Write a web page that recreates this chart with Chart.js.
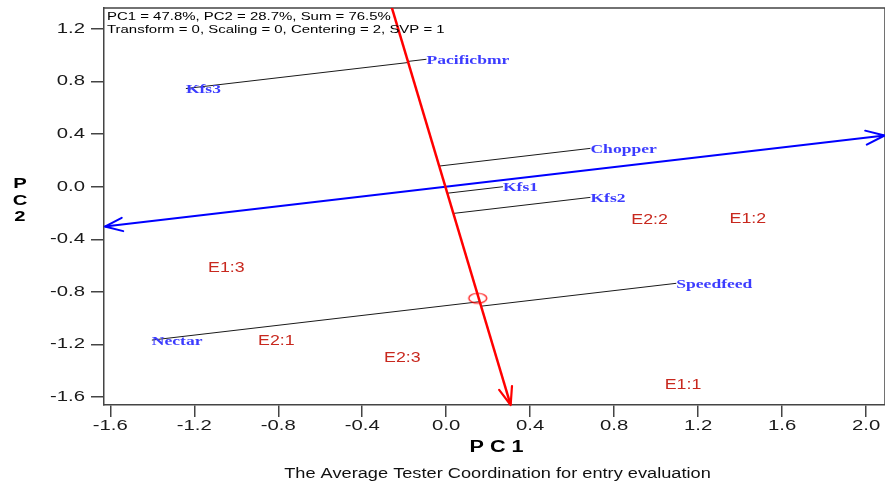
<!DOCTYPE html>
<html>
<head>
<meta charset="utf-8">
<script src="https://cdn.jsdelivr.net/npm/chart.js@4.4.1/dist/chart.umd.min.js"></script>
<style>
html,body{margin:0;padding:0;background:#fff;}
#wrap{width:885px;height:482px;}
</style>
</head>
<body>
<div id="wrap"><canvas id="c" width="885" height="482"></canvas></div>
<script>
// ---- data ----
const genoNames = ['Pacificbmr','Kfs3','Chopper','Kfs1','Kfs2','Speedfeed','Nectar'];
const genoX = [-0.094,-1.240,0.687,0.270,0.687,1.096,-1.402];
const genoY = [0.970,0.747,0.292,0.000,-0.081,-0.735,-1.167];
const envNames = ['E1:3','E2:1','E2:3','E1:1','E2:2','E1:2'];
const envX = [-1.047,-0.809,-0.209,1.128,0.969,1.437];
const envY = [-0.621,-1.172,-1.301,-1.509,-0.253,-0.248];
const atcX = [-0.260,0.307];   // ATC ordinate (red)
const atcY = [1.368,-1.661];
const aecX = [-1.626,2.088];   // ATC abscissa (blue)
const aecY = [-0.303,0.390];
const avgX = [0.150];
const avgY = [-0.849];
const xTicks = [-1.6,-1.2,-0.8,-0.4,0.0,0.4,0.8,1.2,1.6,2.0];
const yTicks = [-1.6,-1.2,-0.8,-0.4,0.0,0.4,0.8,1.2];
const headerLines = ['PC1 = 47.8%, PC2 = 28.7%, Sum = 76.5%','Transform = 0, Scaling = 0, Centering = 2, SVP = 1'];
const xTitle = 'P C 1';
const yTitleLetters = ['P','C','2'];
const bottomTitle = 'The Average Tester Coordination for entry evaluation';

// ---- derived: projection of each entry onto the ATC ordinate ----
function project(px, py){
  const ax=atcX[0], ay=atcY[0];
  let dx=atcX[1]-ax, dy=atcY[1]-ay;
  const L=Math.hypot(dx,dy); dx/=L; dy/=L;
  const t=(px-ax)*dx+(py-ay)*dy;
  return {x:ax+t*dx, y:ay+t*dy};
}

const projSets = genoNames.map((n,i)=>{
  const f = project(genoX[i],genoY[i]);
  return {
    label:'proj '+n,
    data:[{x:genoX[i],y:genoY[i]},{x:f.x,y:f.y}],
    showLine:true, borderColor:'#1a1a1a', borderWidth:1,
    pointRadius:0, order:3
  };
});

// ellipse marker
const ell = document.createElement('canvas');
ell.width=22; ell.height=14;
(function(){
  const g=ell.getContext('2d');
  g.strokeStyle='#ff0000'; g.lineWidth=1.2;
  g.beginPath(); g.ellipse(11,7,9,5,0,0,Math.PI*2); g.stroke();
})();

function stretchText(ctx, text, x, y, font, color, sx, align){
  ctx.save();
  ctx.font=font; ctx.fillStyle=color; ctx.textBaseline='middle'; ctx.textAlign='left';
  const w=ctx.measureText(text).width*sx;
  let x0 = align==='center' ? x-w/2 : (align==='right' ? x-w : x);
  ctx.translate(x0,y); ctx.scale(sx,1); ctx.fillText(text,0,0);
  ctx.restore();
}

function arrow(ctx, p0, p1, len, ang, color, lw){
  let ux=p1.x-p0.x, uy=p1.y-p0.y; const L=Math.hypot(ux,uy); ux/=L; uy/=L;
  ctx.save(); ctx.strokeStyle=color; ctx.lineWidth=lw; ctx.lineCap='round';
  ctx.beginPath();
  [ang,-ang].forEach(a=>{
    const c=Math.cos(a), s=Math.sin(a);
    const rx=ux*c-uy*s, ry=ux*s+uy*c;
    ctx.moveTo(p0.x,p0.y); ctx.lineTo(p0.x+rx*len,p0.y+ry*len);
  });
  ctx.stroke(); ctx.restore();
}

const decor = {
  id:'decor',
  beforeDatasetsDraw(chart){
    const {ctx, chartArea:a} = chart;
    ctx.save(); ctx.strokeStyle='#444'; ctx.lineWidth=1.5;
    ctx.beginPath(); ctx.moveTo(a.left,a.top); ctx.lineTo(a.right,a.top); ctx.lineTo(a.right,a.bottom); ctx.stroke();
    ctx.restore();
  },
  afterDatasetsDraw(chart){
    const {ctx, chartArea:a, scales:{x,y}} = chart;
    const P=(vx,vy)=>({x:x.getPixelForValue(vx), y:y.getPixelForValue(vy)});
    // arrowheads
    arrow(ctx, P(atcX[1],atcY[1]), P(atcX[0],atcY[0]), 19, 0.36, '#ff0000', 2.2);
    arrow(ctx, P(aecX[1],aecY[1]), P(aecX[0],aecY[0]), 20, 0.36, '#0000ff', 2);
    arrow(ctx, P(aecX[0],aecY[0]), P(aecX[1],aecY[1]), 19, 0.36, '#0000ff', 2);
    // entry labels
    genoNames.forEach((n,i)=>{
      const p=P(genoX[i],genoY[i]);
      stretchText(ctx,n,p.x,p.y+1,'bold 13.5px "Liberation Serif"','#3c3cff',1.3,'left');
    });
    envNames.forEach((n,i)=>{
      const p=P(envX[i],envY[i]);
      stretchText(ctx,n,p.x,p.y,'14px "Liberation Sans"','#c8281e',1.27,'center');
    });
    // tick labels
    xTicks.forEach(v=>{
      stretchText(ctx,v.toFixed(1),x.getPixelForValue(v),a.bottom+21,'14px "Liberation Sans"','#1a1a1a',1.45,'center');
    });
    yTicks.forEach(v=>{
      stretchText(ctx,v.toFixed(1),a.left-19,y.getPixelForValue(v),'14px "Liberation Sans"','#1a1a1a',1.45,'right');
    });
    // axis titles
    const cx=(a.left+a.right)/2;
    stretchText(ctx,xTitle,cx+2,a.bottom+43,'bold 16px "Liberation Sans"','#000',1.35,'center');
    yTitleLetters.forEach((t,i)=>{
      stretchText(ctx,t,20,184+i*16.5,'bold 15px "Liberation Sans"','#000',1.35,'center');
    });
    stretchText(ctx,bottomTitle,cx+3,a.bottom+69,'14px "Liberation Sans"','#111',1.3,'center');
    // header
    headerLines.forEach((t,i)=>{
      stretchText(ctx,t,a.left+3,a.top+9+i*12.5,'11.5px "Liberation Sans"','#000',1.3,'left');
    });
  }
};

new Chart(document.getElementById('c'), {
  type:'scatter',
  data:{datasets:[
    {label:'ATC ordinate', data:atcX.map((v,i)=>({x:v,y:atcY[i]})), showLine:true, borderColor:'#ff0000', borderWidth:2.5, pointRadius:0, order:0},
    {label:'ATC abscissa', data:aecX.map((v,i)=>({x:v,y:aecY[i]})), showLine:true, borderColor:'#0000ff', borderWidth:2, pointRadius:0, order:1},
    {label:'Average', data:avgX.map((v,i)=>({x:v,y:avgY[i]})), pointStyle:ell, pointRadius:9, order:0},
    {label:'Entries', data:genoX.map((v,i)=>({x:v,y:genoY[i]})), pointRadius:0, order:5},
    {label:'Testers', data:envX.map((v,i)=>({x:v,y:envY[i]})), pointRadius:0, order:5},
    ...projSets
  ]},
  options:{
    responsive:false, animation:false, devicePixelRatio:1,
    layout:{autoPadding:false, padding:{left:91,right:0,top:8,bottom:65}},
    plugins:{legend:{display:false}, tooltip:{enabled:false}, title:{display:false}},
    scales:{
      x:{type:'linear', min:-1.63, max:2.09,
        afterBuildTicks(s){ s.ticks = xTicks.map(v=>({value:v})); },
        ticks:{display:false},
        grid:{display:true, drawOnChartArea:false, drawTicks:true, tickLength:12, color:'#444', lineWidth:1.5},
        border:{display:true, color:'#444', width:1.5}},
      y:{type:'linear', min:-1.661, max:1.360,
        afterBuildTicks(s){ s.ticks = yTicks.map(v=>({value:v})); },
        ticks:{display:false},
        grid:{display:true, drawOnChartArea:false, drawTicks:true, tickLength:13, color:'#444', lineWidth:1.5},
        border:{display:true, color:'#444', width:1.5}}
    }
  },
  plugins:[decor]
});
</script>
</body>
</html>
